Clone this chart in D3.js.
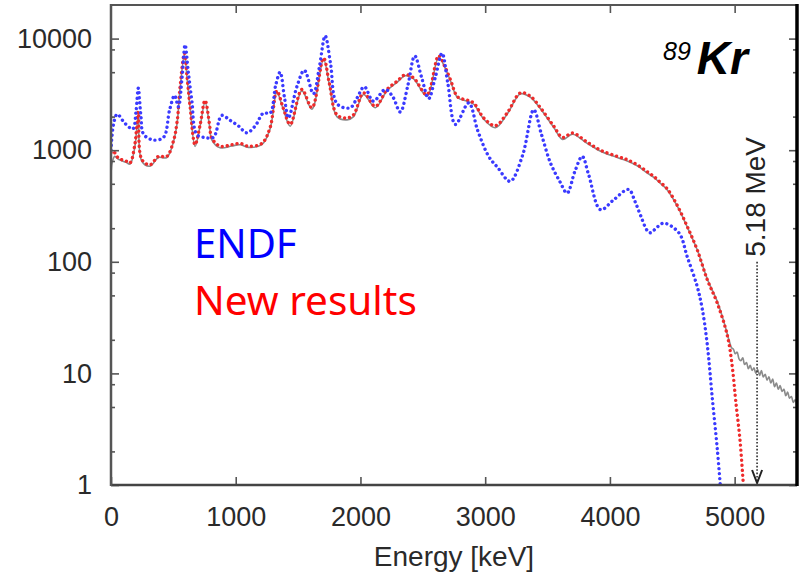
<!DOCTYPE html>
<html><head><meta charset="utf-8">
<script src="https://cdn.jsdelivr.net/npm/d3@7/dist/d3.min.js"></script>
<style>body{margin:0;background:#fff}svg{display:block}</style>
</head><body><svg id="c" width="807" height="575"></svg>
<script>
// ---- data ----
const xTicks = [0, 1000, 2000, 3000, 4000, 5000];
const yTicks = [1, 10, 100, 1000, 10000];
const yMinorTicks = [2, 5, 8, 20, 50, 80, 200, 500, 800, 2000, 5000, 8000];

const endfEnergy = [0,20,50,110,175,200,219,240,260,330,420,470,510,540,570,594,620,648,688,754,821,888,955,1022,1089,1156,1222,1276,1320,1356,1390,1423,1490,1550,1623,1670,1717,1760,1813,1918,1970,2031,2103,2199,2260,2319,2380,2435,2490,2547,2600,2654,2700,2761,2868,2940,3028,3100,3200,3300,3389,3450,3523,3600,3657,3720,3778,3830,3925,4031,4150,4200,4246,4300,4326,4380,4433,4553,4620,4700,4740,4781,4821,4861,4885];
const endfValue  = [1000,1700,2100,1750,1550,2200,3600,2000,1400,1240,1300,2300,3100,2450,4500,8800,5000,2800,1380,1300,1300,2050,1850,1650,1430,1650,2150,2150,3800,5000,3000,1950,3700,5200,3200,5500,10600,6000,2600,2400,2900,3700,2750,3500,3000,2200,3800,7000,4500,2900,4500,7400,4000,1700,2650,1500,880,700,526,900,2300,1400,770,520,413,650,880,600,293,360,445,350,260,190,182,205,222,182,111,60,38,18,6,2.1,1];

const newEnergy = [0,18,59,120,152,190,219,246,313,380,447,500,530,554,589,610,634,674,715,754,790,808,875,968,1035,1102,1209,1276,1330,1380,1437,1530,1611,1704,1750,1811,1892,1945,2025,2119,2212,2293,2360,2426,2533,2627,2680,2721,2780,2855,2908,2988,3082,3176,3283,3363,3443,3550,3620,3700,3818,3925,4059,4139,4219,4300,4352,4400,4460,4540,4620,4700,4781,4861,4941,4981,5008,5043,5070];
const newValue  = [950,980,850,800,770,1100,2200,830,740,880,880,1200,1800,3700,7400,4500,2470,1120,1700,2800,1700,1285,1085,1120,1150,1085,1150,1600,3400,2400,1700,3500,2400,6700,4000,2080,1945,2080,3260,2470,3490,4140,4750,4440,3150,7000,5500,4300,3000,2815,2650,1945,1660,2155,3260,3040,2400,1640,1300,1425,1180,1000,880,822,740,640,582,520,450,320,207,128,69,42.6,22,11.5,5.8,2.53,1];

const expEnergy = [0,10,30,59,120,152,190,219,246,313,380,447,500,530,554,589,610,634,674,715,754,790,808,875,968,1035,1102,1209,1276,1330,1380,1437,1530,1611,1704,1750,1811,1892,1945,2025,2119,2212,2293,2360,2426,2533,2627,2680,2721,2780,2855,2908,2988,3082,3176,3283,3363,3443,3550,3620,3700,3818,3925,4059,4139,4219,4300,4352,4400,4460,4540,4620,4700,4781,4861,4910,4960,4975,4990,5005,5020,5035,5050,5065,5080,5095,5110,5125,5140,5155,5170,5185,5200,5215,5230,5245,5260,5275,5290,5305,5320,5335,5350,5365,5380,5395,5410,5425,5440,5455,5470,5485,5500];
const expValue  = [600,780,880,830,780,750,1050,2100,800,720,860,860,1180,1750,3600,7200,4400,2400,1080,1650,2700,1650,1240,1050,1090,1120,1060,1120,1560,3300,2350,1640,3400,2330,6500,3900,2000,1870,2000,3150,2400,3400,4050,4650,4350,3050,6800,5400,4200,2950,2750,2580,1900,1590,2100,3200,2980,2350,1600,1250,1390,1150,980,860,800,725,625,570,510,440,315,205,128,70,44,30,19,17,16.5,15,15.5,13.5,13,13.8,12,12.5,11,11.8,10.6,11.2,10,10.8,9.6,10.6,9.3,9.8,8.7,9.3,8.2,8.9,7.6,8.2,7.2,7.8,6.9,7.2,6.3,6.8,6.0,6.2,5.5,5.8,5.0];

const qValueKeV = 5180;
const arrowTop = 100;

// ---- layout ----
const L = 111, R = 797, T = 5, B = 485;
const svg = d3.select('#c');
const font = '"Liberation Sans", Arial, Helvetica, sans-serif';

const x = d3.scaleLinear().domain([0, 5500]).range([L, R]);
const y = d3.scaleLog().domain([1, 20000]).range([B, T]);

svg.append('defs').append('clipPath').attr('id', 'clip')
  .append('rect').attr('x', L).attr('y', T).attr('width', R - L).attr('height', B - T);

const plot = svg.append('g').attr('clip-path', 'url(#clip)');

function pts(E, V) { return E.map((e, i) => [e, V[i]]); }
const smooth = d3.line().x(d => x(d[0])).y(d => y(d[1])).curve(d3.curveCatmullRom.alpha(0.5));

// experimental (gray)
plot.append('path').attr('d', smooth(pts(expEnergy, expValue)))
  .attr('fill', 'none').attr('stroke', '#8a8a8a').attr('stroke-width', 1.6);
// new results (red, dotted)
plot.append('path').attr('d', smooth(pts(newEnergy, newValue)))
  .attr('fill', 'none').attr('stroke', '#ee2b2b').attr('stroke-width', 3.4)
  .attr('stroke-linecap', 'round').attr('stroke-dasharray', '0.01 5');
// ENDF (blue, dotted)
plot.append('path').attr('d', smooth(pts(endfEnergy, endfValue)))
  .attr('fill', 'none').attr('stroke', '#3a3aff').attr('stroke-width', 3.4)
  .attr('stroke-linecap', 'round').attr('stroke-dasharray', '0.01 5');

// Q-value arrow
const qx = x(qValueKeV);
svg.append('line').attr('x1', qx).attr('x2', qx).attr('y1', y(arrowTop)).attr('y2', B - 3)
  .attr('stroke', '#444').attr('stroke-width', 1.8).attr('stroke-dasharray', '1.6 1.8');
svg.append('path').attr('d', `M${qx - 5},${B - 15}L${qx},${B - 2}L${qx + 5},${B - 15}`)
  .attr('fill', 'none').attr('stroke', '#222').attr('stroke-width', 2);
svg.append('text').attr('transform', `translate(${qx + 8},${y(arrowTop) - 5}) rotate(-90)`)
  .attr('font-family', font).attr('font-size', 28).attr('fill', '#222').text('5.18 MeV');

// axes
const fmt = d3.format('d');
const ax = svg.append('g').attr('font-family', font);
ax.append('g').attr('transform', `translate(0,${B})`)
  .call(d3.axisBottom(x).tickValues(xTicks).tickSize(-8).tickSizeOuter(0).tickPadding(22).tickFormat(fmt));
ax.append('g').attr('transform', `translate(0,${T})`)
  .call(d3.axisTop(x).tickValues(xTicks.slice(1)).tickSize(-8).tickSizeOuter(0).tickFormat(''));
ax.append('g').attr('transform', `translate(${L},0)`)
  .call(d3.axisLeft(y).tickValues(yTicks).tickSize(-8).tickSizeOuter(0).tickPadding(19).tickFormat(fmt));
ax.append('g').attr('transform', `translate(${L},0)`)
  .call(d3.axisLeft(y).tickValues(yMinorTicks).tickSize(-4).tickSizeOuter(0).tickFormat(''));
ax.append('g').attr('transform', `translate(${R},0)`)
  .call(d3.axisRight(y).tickValues(yTicks).tickSize(-8).tickSizeOuter(0).tickFormat(''));
ax.append('g').attr('transform', `translate(${R},0)`)
  .call(d3.axisRight(y).tickValues(yMinorTicks).tickSize(-4).tickSizeOuter(0).tickFormat(''));

ax.selectAll('.domain').remove();
ax.selectAll('.tick line').attr('stroke', '#555').attr('stroke-width', 1.6);
ax.selectAll('.tick text').attr('font-size', 27).attr('fill', '#2a2a2a').attr('font-family', font);

// frame
svg.append('line').attr('x1', L).attr('x2', R).attr('y1', T).attr('y2', T).attr('stroke', '#555').attr('stroke-width', 2);
svg.append('line').attr('x1', L).attr('x2', R).attr('y1', B).attr('y2', B).attr('stroke', '#444').attr('stroke-width', 2.5);
svg.append('line').attr('x1', L).attr('x2', L).attr('y1', T - 1).attr('y2', B + 1).attr('stroke', '#555').attr('stroke-width', 2.5);
svg.append('line').attr('x1', R).attr('x2', R).attr('y1', T - 1).attr('y2', B + 1).attr('stroke', '#000').attr('stroke-width', 3.5);

// axis title
svg.append('text').attr('x', (L + R) / 2).attr('y', 566).attr('text-anchor', 'middle')
  .attr('font-family', font).attr('font-size', 28).attr('fill', '#2a2a2a').text('Energy [keV]');

// isotope label
const iso = svg.append('text').attr('x', 663).attr('y', 74).attr('font-family', font).attr('fill', '#000');
iso.append('tspan').attr('font-size', 25).attr('font-style', 'italic').attr('dy', -14).text('89');
iso.append('tspan').attr('font-size', 46).attr('font-style', 'italic').attr('font-weight', 'bold').attr('dy', 14).attr('dx', 6).text('Kr');

// legend
const lf = '"Noto Sans", "Open Sans", sans-serif';
svg.append('text').attr('x', 194).attr('y', 258).attr('font-family', lf).attr('font-size', 40).attr('fill', '#0000ff').text('ENDF');
svg.append('text').attr('x', 194).attr('y', 315).attr('font-family', lf).attr('font-size', 40.5).attr('fill', '#ff0000').text('New results');
</script>
</body></html>
